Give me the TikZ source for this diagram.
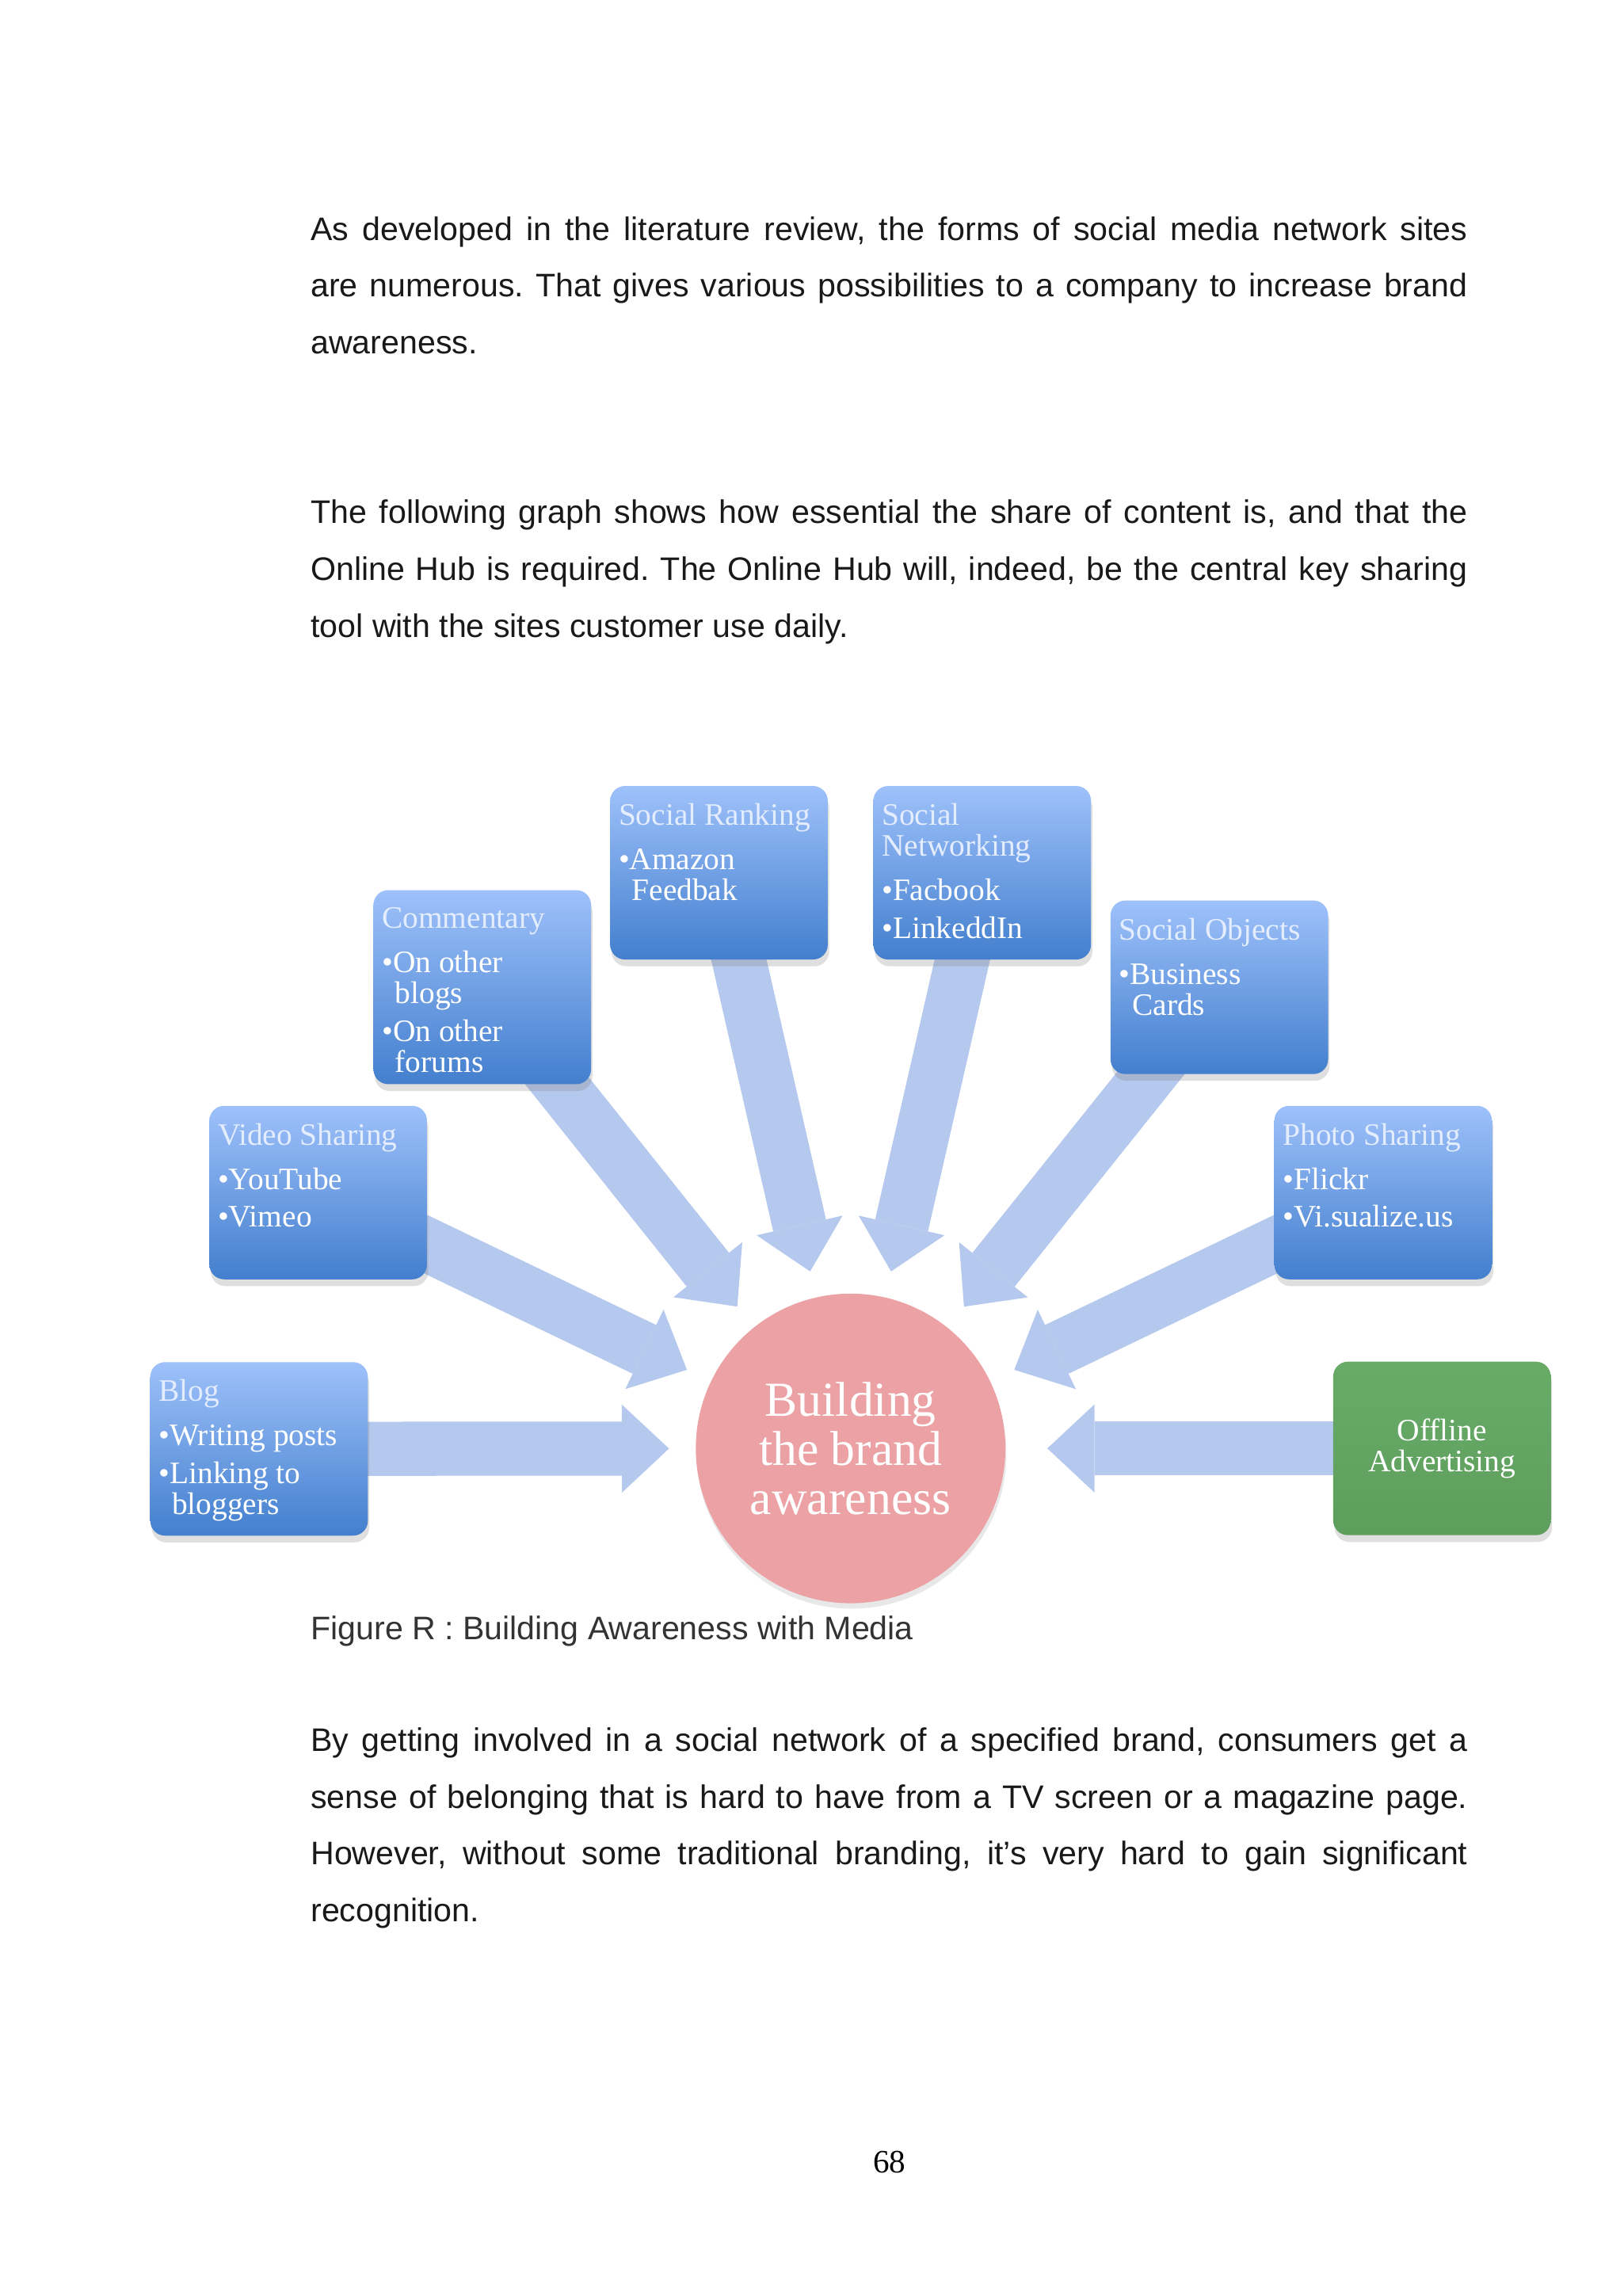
\documentclass[tikz,border=0pt]{standalone}
\usepackage{fontspec}
\setmainfont{Liberation Sans}
\newfontfamily\artfont{Liberation Serif}
\usetikzlibrary{arrows.meta,shadows,backgrounds}

\definecolor{boxtop}{RGB}{158,193,250}
\definecolor{boxbot}{RGB}{67,127,206}
\definecolor{titlewhite}{RGB}{228,237,253}
\definecolor{arrowblue}{RGB}{181,200,237}
\definecolor{hubpink}{RGB}{236,161,165}
\definecolor{greentop}{RGB}{104,171,103}
\definecolor{greenbot}{RGB}{94,158,93}

\newcommand{\itm}[1]{\par\hangindent=0.17cm\hangafter=1\noindent\textbullet#1}
\newcommand{\sitetext}[3][2.045cm]{\parbox[c][#1][t]{2.595cm}{\vspace*{0.04cm}\raggedright\parskip=0.086cm\relax{\color{titlewhite}#2\par}\vspace{0.086cm}#3}}

\begin{document}
\frenchspacing
\begin{tikzpicture}[x=0.019022cm, y=-0.019022cm,
	para/.style={anchor=base west, inner sep=0pt, text width=14.97cm, align=justify, text=black!90, font=\fontsize{12}{20.9}\selectfont},
	sitebox/.style={rounded corners=0.19cm, top color=boxtop, bottom color=boxbot, minimum width=2.815cm, minimum height=2.245cm, inner xsep=0.11cm, inner ysep=0.1cm, text=white, font=\artfont\fontsize{11.5}{11.45}\selectfont, drop shadow={shadow xshift=0.5pt, shadow yshift=-2.5pt, opacity=0.25}},
	offbox/.style={sitebox, top color=greentop, bottom color=greenbot, align=center},
	hub/.style={circle, fill=hubpink, minimum size=4.006cm, inner sep=0pt, align=center, text=white, font=\artfont\fontsize{18}{18.1}\selectfont, drop shadow={shadow xshift=0.4pt, shadow yshift=-2pt, opacity=0.18}},
	link/.style={draw=arrowblue, line width=0.70cm, -{Triangle[width=1.14cm, length=0.61cm, line width=0pt]}, shorten >=0.34cm, shorten <=-0.6cm}]

	\useasboundingbox (0, 0) rectangle (1104, 1561.4);

	% page text
	\node [para] (intro) at (211, 163.3) {As developed in the literature review, the forms of social media network sites\linebreak are numerous. That gives various possibilities to a company to increase brand\linebreak awareness.};
	\node [para] (graph) at (211, 356) {The following graph shows how essential the share of content is, and that the\linebreak Online Hub is required. The Online Hub will, indeed, be the central key sharing\linebreak tool with the sites customer use daily.};

	% diagram
	\node [hub]			(hub)			at (578.5, 985)	{Building\\the brand\\awareness};
	\node [sitebox]	(rank)		at (489, 593.5)	{\sitetext{Social Ranking}{\itm{Amazon\newline Feedbak}}};
	\node [sitebox]	(network)	at (668, 593.5)	{\sitetext{Social\newline Networking}{\itm{Facbook}\itm{LinkeddIn}}};
	\node [sitebox, minimum height=2.511cm]	(comment)	at (328, 671.3)	{\sitetext[2.311cm]{Commentary}{\itm{On other\newline blogs}\itm{On other\newline forums}}};
	\node [sitebox]	(objects)	at (829.3, 671.4)	{\sitetext{Social Objects}{\itm{Business\newline Cards}}};
	\node [sitebox]	(video)		at (216.4, 811)	{\sitetext{Video Sharing}{\itm{YouTube}\itm{Vimeo}}};
	\node [sitebox]	(photo)		at (940.7, 811)	{\sitetext{Photo Sharing}{\itm{Flickr}\itm{Vi.sualize.us}}};
	\node [sitebox]	(blog)		at (176.2, 985.3)	{\sitetext{Blog}{\itm{Writing posts}\itm{Linking to\newline bloggers}}};
	\node [offbox]	(offline)	at (980.7, 985)	{Offline\\Advertising};

	% arrows go under the boxes
	\begin{scope}[on background layer]
		\fill [white] (0, 0) rectangle (1104, 1561.4);
		\draw [link]	(blog)		to (hub);
		\draw [link]	(video)		to (hub);
		\draw [link]	(comment)	to (hub);
		\draw [link]	(rank)		to (hub);
		\draw [link]	(network)	to (hub);
		\draw [link]	(objects)	to (hub);
		\draw [link]	(photo)		to (hub);
		\draw [link, shorten >=0.536cm]	(offline)	to (hub);
	\end{scope}

	\node [anchor=base west, inner sep=0pt, text=black!80, font=\fontsize{12}{14}\selectfont] (caption) at (211, 1115) {Figure R : Building Awareness with Media};
	\node [para] (belong) at (211, 1191) {By getting involved in a social network of a specified brand, consumers get a\linebreak sense of belonging that is hard to have from a TV screen or a magazine page.\linebreak However, without some traditional branding, it’s very hard to gain significant\linebreak recognition.};

	\node [anchor=base, inner sep=0pt, font=\artfont\fontsize{12}{14}\selectfont] (pagenum) at (605, 1477.6) {68};

\end{tikzpicture}
\end{document}
